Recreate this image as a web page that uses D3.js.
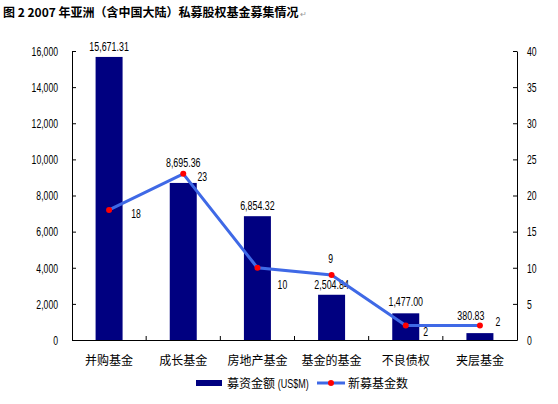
<!DOCTYPE html>
<html lang="zh">
<head>
<meta charset="UTF-8">
<title>私募股权基金募集情况</title>
<script src="https://d3js.org/d3.v7.min.js"></script>
<style>
    body { margin: 0; background: #fff; }
    text { font-family: "Liberation Sans", Arial, sans-serif; fill: #000; }
    .cjk { font-family: "Noto Sans CJK SC", sans-serif; }
</style>
</head>
<body>
<svg width="558" height="404"></svg>
<script>
    // data
    const categories = ["并购基金", "成长基金", "房地产基金", "基金的基金", "不良债权", "夹层基金"];
    const amounts = [15671.31, 8695.36, 6854.32, 2504.84, 1477.00, 380.83];
    const fundCounts = [18, 23, 10, 9, 2, 2];
    const leftTicks = [0, 2000, 4000, 6000, 8000, 10000, 12000, 14000, 16000];
    const rightTicks = [0, 5, 10, 15, 20, 25, 30, 35, 40];

    // label nudges (layout only), [dx, dy] from default spot
    const barLabelNudge = [[0, 0], [0, -10], [0, 0], [0, 0], [0, -1], [-9, -7]];
    const countLabelNudge = [[27, 4], [19, 3], [25, 17], [-1, -16], [20, 6], [18, -4]];

    const svg = d3.select("svg");
    const plotL = 72, plotR = 517, plotT = 51, plotB = 340;

    const x = d3.scaleBand().domain(categories).range([plotL, plotR]).paddingInner(0.636).paddingOuter(0.318);
    const xb = d3.scaleBand().domain(categories).range([plotL, plotR]);
    const yL = d3.scaleLinear().domain([0, 16000]).range([plotB, plotT]);
    const yR = d3.scaleLinear().domain([0, 40]).range([plotB, plotT]);

    // the numbers in the original are a tall, narrow face
    function condense(sel, k) {
        sel.each(function () {
            const len = this.getComputedTextLength();
            d3.select(this).attr("textLength", len * k).attr("lengthAdjust", "spacingAndGlyphs");
        });
    }

    // title
    const title = svg.append("text")
        .attr("class", "cjk")
        .attr("x", 3).attr("y", 17)
        .attr("font-size", 12).attr("font-weight", "bold")
        .text("图 2 2007 年亚洲（含中国大陆）私募股权基金募集情况");
    svg.append("text")
        .attr("x", 3 + title.node().getComputedTextLength() + 1).attr("y", 17)
        .attr("font-size", 8).style("fill", "#999")
        .text("↵");

    // bars
    svg.selectAll(".bar").data(amounts).join("rect")
        .attr("class", "bar")
        .attr("x", (d, i) => x(categories[i]))
        .attr("width", x.bandwidth())
        .attr("y", d => yL(d))
        .attr("height", d => plotB - yL(d))
        .attr("fill", "#000080");

    // axes
    const axisL = svg.append("g").attr("transform", `translate(${plotL},0)`)
        .call(d3.axisLeft(yL).tickValues(leftTicks).tickFormat(d3.format(",")).tickSizeInner(-4).tickSizeOuter(0).tickPadding(14));
    const axisR = svg.append("g").attr("transform", `translate(${plotR},0)`)
        .call(d3.axisRight(yR).tickValues(rightTicks).tickSizeInner(-4).tickSizeOuter(0).tickPadding(10));
    const xBoundaries = categories.slice(1).map(c => xb(c));
    const axisB = svg.append("g").attr("transform", `translate(0,${plotB})`)
        .call(d3.axisBottom(xb).tickSize(0).tickPadding(16));
    axisB.selectAll(".bound").data(xBoundaries).join("line")
        .attr("x1", d => d).attr("x2", d => d)
        .attr("y1", 0).attr("y2", -4)
        .attr("stroke", "#000");

    [axisL, axisR, axisB].forEach(g => {
        g.selectAll("path, line").attr("stroke", "#000");
        g.selectAll("text").style("fill", "#000");
    });
    axisL.selectAll("text").attr("font-size", 13.5).call(condense, 0.64);
    axisR.selectAll("text").attr("font-size", 13.5).call(condense, 0.64);
    axisB.selectAll(".tick text").attr("class", "cjk").attr("font-size", 12);

    // bar value labels
    svg.selectAll(".barLabel").data(amounts).join("text")
        .attr("class", "barLabel")
        .attr("x", (d, i) => xb(categories[i]) + xb.bandwidth() / 2 + barLabelNudge[i][0])
        .attr("y", (d, i) => yL(d) - 6 + barLabelNudge[i][1])
        .attr("text-anchor", "middle")
        .attr("font-size", 12.5)
        .text(d => d3.format(",.2f")(d))
        .call(condense, 0.71);

    // count line
    const cx = i => xb(categories[i]) + xb.bandwidth() / 2;
    svg.append("path")
        .datum(fundCounts)
        .attr("fill", "none")
        .attr("stroke", "#3F69E6")
        .attr("stroke-width", 3)
        .attr("d", d3.line().x((d, i) => cx(i)).y(d => yR(d)));
    svg.selectAll(".pt").data(fundCounts).join("circle")
        .attr("class", "pt")
        .attr("cx", (d, i) => cx(i))
        .attr("cy", d => yR(d))
        .attr("r", 3)
        .attr("fill", "#FF0000");
    svg.selectAll(".cntLabel").data(fundCounts).join("text")
        .attr("class", "cntLabel")
        .attr("x", (d, i) => cx(i) + countLabelNudge[i][0])
        .attr("y", (d, i) => yR(d) + 4 + countLabelNudge[i][1])
        .attr("text-anchor", "middle")
        .attr("font-size", 12.5)
        .text(d => d)
        .call(condense, 0.69);

    // legend
    const lg = svg.append("g").attr("transform", "translate(196,383)");
    lg.append("rect").attr("x", 0).attr("y", -3).attr("width", 26).attr("height", 6).attr("fill", "#000080");
    const lt = lg.append("text").attr("class", "cjk").attr("x", 31).attr("y", 4.5).attr("font-size", 12);
    lt.append("tspan").text("募资金额 ");
    lt.append("tspan").style("font-family", "'Liberation Sans', Arial, sans-serif").attr("font-size", 12.5)
        .text("(US$M)").call(condense, 0.72);
    lg.append("line").attr("x1", 121).attr("x2", 149).attr("y1", 0).attr("y2", 0)
        .attr("stroke", "#3F69E6").attr("stroke-width", 3);
    lg.append("circle").attr("cx", 135).attr("cy", 0).attr("r", 3).attr("fill", "#FF0000");
    lg.append("text").attr("class", "cjk").attr("x", 152).attr("y", 4.5).attr("font-size", 12).text("新募基金数");
</script>
</body>
</html>
